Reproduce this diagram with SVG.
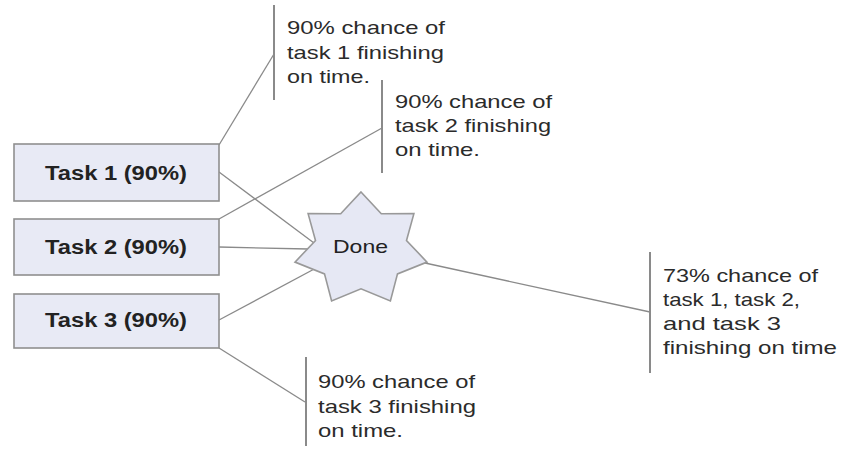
<svg xmlns="http://www.w3.org/2000/svg" width="851" height="449" viewBox="0 0 851 449">
<style>
.box{fill:#e8eaf5;stroke:#8f8f8f;stroke-width:1.6}
.task{font-family:"Liberation Sans",Arial,sans-serif;font-size:20px;font-weight:bold;fill:#222;text-anchor:middle}
.note{font-family:"Liberation Sans",Arial,sans-serif;font-size:18.5px;fill:#2b2b2b}
.bar{stroke:#8a8a8a;stroke-width:2;fill:none}
.con{stroke:#8a8a8a;stroke-width:1.3;fill:none}
.star{fill:#e6e8f4;stroke:#999;stroke-width:1.6}
</style>
<rect width="851" height="449" fill="#fff"/>
<g id="connectors">
<line class="con" x1="219" y1="145" x2="274" y2="54"/>
<line class="con" x1="219" y1="219" x2="382" y2="128"/>
<line class="con" x1="219" y1="348" x2="305" y2="402"/>
<line class="con" x1="219" y1="172" x2="314" y2="243"/>
<line class="con" x1="219" y1="247" x2="308" y2="249"/>
<line class="con" x1="219" y1="320" x2="318" y2="267"/>
<line class="con" x1="425" y1="263" x2="650" y2="312"/>
</g>
<g id="task1">
<rect class="box" x="14" y="144" width="205" height="57"/>
<text class="task" x="116" y="180" textLength="142" lengthAdjust="spacingAndGlyphs">Task 1 (90%)</text>
</g>
<g id="task2">
<rect class="box" x="14" y="219" width="205" height="56"/>
<text class="task" x="116" y="254" textLength="142" lengthAdjust="spacingAndGlyphs">Task 2 (90%)</text>
</g>
<g id="task3">
<rect class="box" x="14" y="294" width="205" height="54"/>
<text class="task" x="116" y="327" textLength="142" lengthAdjust="spacingAndGlyphs">Task 3 (90%)</text>
</g>
<g id="done">
<polygon class="star" points="361,192 381.3,213.7 413.9,213.6 406.5,240.5 427,262.1 397.5,273.9 390.4,300.9 361,288.8 331.6,300.9 324.5,273.9 295,262.1 315.5,240.5 308.1,213.6 340.7,213.7"/>
<text class="note" x="333" y="253" textLength="55" lengthAdjust="spacingAndGlyphs" style="fill:#222;font-size:19px">Done</text>
</g>
<g id="note1">
<line class="bar" x1="274" y1="5" x2="274" y2="100"/>
<text class="note" x="287" y="34" textLength="158" lengthAdjust="spacingAndGlyphs">90% chance of</text>
<text class="note" x="287" y="59" textLength="157" lengthAdjust="spacingAndGlyphs">task 1 finishing</text>
<text class="note" x="287" y="83" textLength="83" lengthAdjust="spacingAndGlyphs">on time.</text>
</g>
<g id="note2">
<line class="bar" x1="382" y1="80" x2="382" y2="173"/>
<text class="note" x="395" y="108" textLength="157" lengthAdjust="spacingAndGlyphs">90% chance of</text>
<text class="note" x="395" y="132" textLength="156" lengthAdjust="spacingAndGlyphs">task 2 finishing</text>
<text class="note" x="395" y="156" textLength="85" lengthAdjust="spacingAndGlyphs">on time.</text>
</g>
<g id="note3">
<line class="bar" x1="306" y1="357" x2="306" y2="446"/>
<text class="note" x="318" y="388" textLength="157" lengthAdjust="spacingAndGlyphs">90% chance of</text>
<text class="note" x="318" y="413" textLength="158" lengthAdjust="spacingAndGlyphs">task 3 finishing</text>
<text class="note" x="318" y="437" textLength="85" lengthAdjust="spacingAndGlyphs">on time.</text>
</g>
<g id="note4">
<line class="bar" x1="650" y1="252" x2="650" y2="373"/>
<text class="note" x="663" y="282" textLength="155" lengthAdjust="spacingAndGlyphs">73% chance of</text>
<text class="note" x="663" y="306" textLength="137" lengthAdjust="spacingAndGlyphs">task 1, task 2,</text>
<text class="note" x="663" y="330" textLength="118" lengthAdjust="spacingAndGlyphs">and task 3</text>
<text class="note" x="663" y="354" textLength="174" lengthAdjust="spacingAndGlyphs">finishing on time</text>
</g>
</svg>
